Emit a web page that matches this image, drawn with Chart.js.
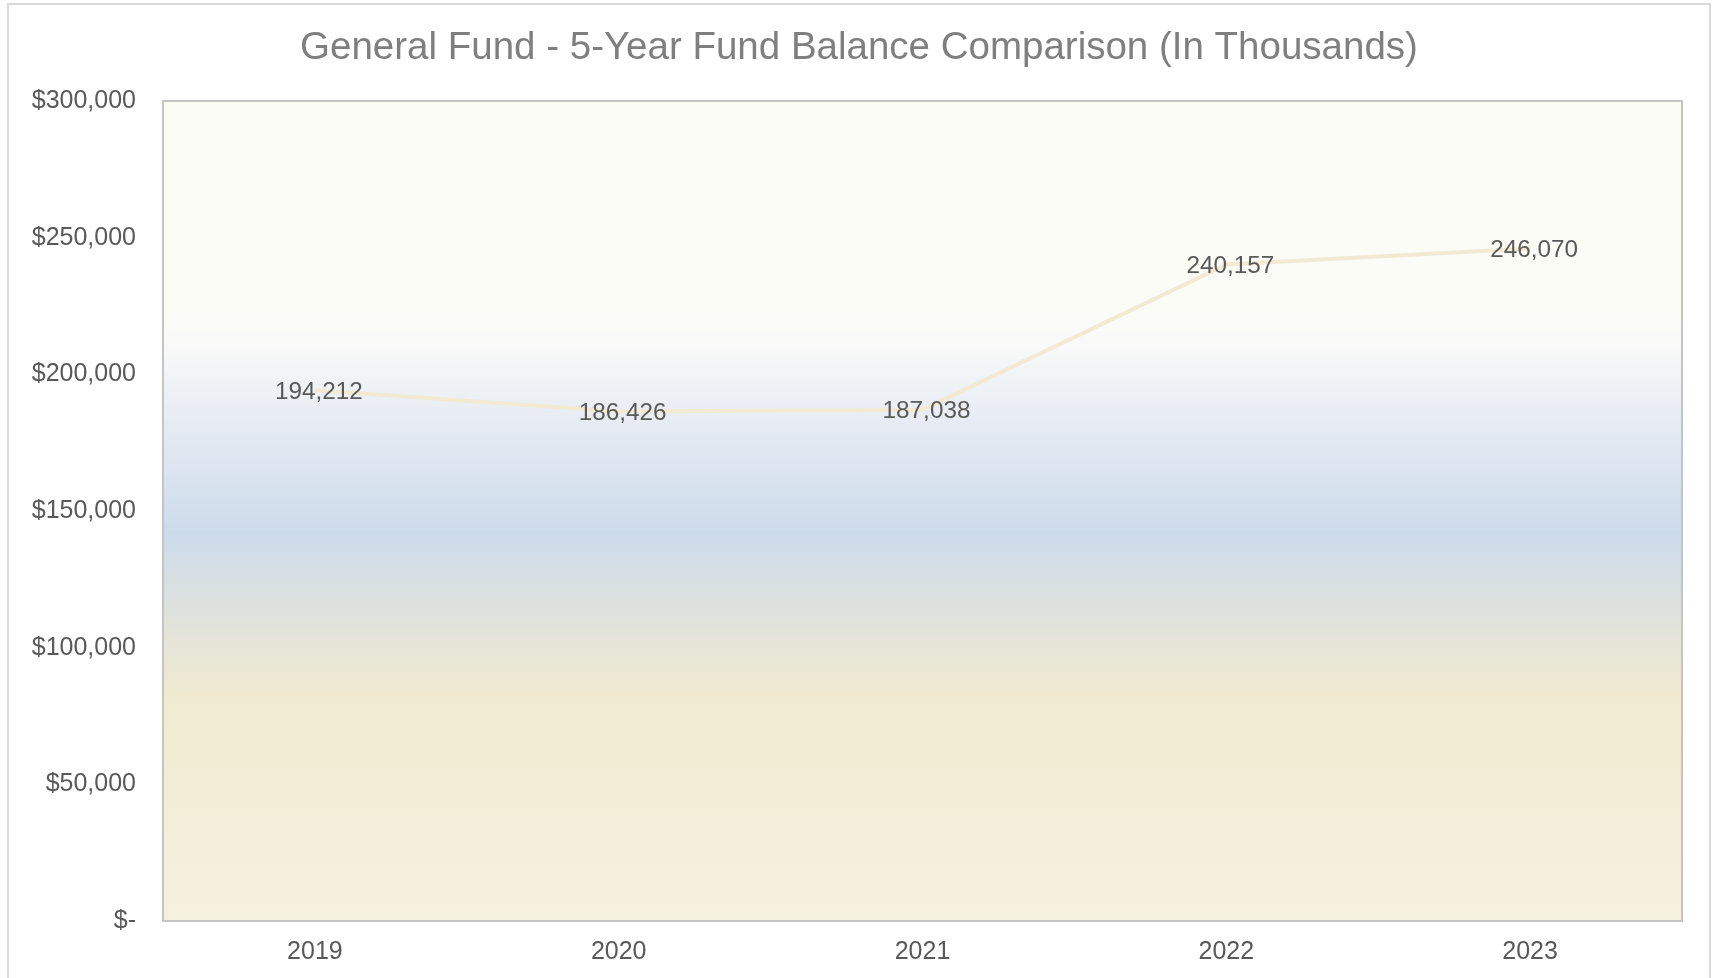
<!DOCTYPE html>
<html>
<head>
<meta charset="utf-8">
<title>General Fund - 5-Year Fund Balance Comparison</title>
<script src="https://cdn.jsdelivr.net/npm/chart.js@4"></script>
<style>
    html, body { margin: 0; padding: 0; background: #ffffff; overflow: hidden; }
    #chart { display: block; }
</style>
</head>
<body>
<canvas id="chart" width="1713" height="978"></canvas>
<script>
// Chart data
const years = ['2019', '2020', '2021', '2022', '2023'];
const fundBalance = [194212, 186426, 187038, 240157, 246070];
const yTickValues = [0, 50000, 100000, 150000, 200000, 250000, 300000];
const chartTitle = 'General Fund - 5-Year Fund Balance Comparison (In Thousands)';

// Colours
const colors = {
    title: '#7f7f7f',
    text: '#595959',
    line: '#f2ead2',
    plotBorder: '#c4c4c4',
    outerBorder: '#d9d9d9'
};

const fontFamily = '"Liberation Sans", Arial, sans-serif';

// Background, outer frame, plot gradient and title
const backdropPlugin = {
    id: 'backdrop',
    beforeDraw(chart) {
        const { ctx, chartArea: a } = chart;
        ctx.save();
        ctx.fillStyle = '#ffffff';
        ctx.fillRect(0, 0, chart.width, chart.height);
        ctx.strokeStyle = colors.outerBorder;
        ctx.lineWidth = 2;
        ctx.strokeRect(8, 4, 1702, 1000);

        const g = ctx.createLinearGradient(0, a.top, 0, a.bottom);
        g.addColorStop(0, '#fcfcf7');
        g.addColorStop(0.26, '#fcfcf7');
        g.addColorStop(0.30, '#f8f9f8');
        g.addColorStop(0.38, '#e9edf4');
        g.addColorStop(0.527, '#ccdbeb');
        g.addColorStop(0.625, '#dfe2dc');
        g.addColorStop(0.727, '#f0ead0');
        g.addColorStop(1, '#f5f1df');
        ctx.fillStyle = g;
        ctx.fillRect(a.left, a.top, a.right - a.left, a.bottom - a.top);

        ctx.strokeStyle = colors.plotBorder;
        ctx.lineWidth = 2;
        ctx.strokeRect(a.left, a.top, a.right - a.left, a.bottom - a.top);

        ctx.font = '38.5px ' + fontFamily;
        ctx.fillStyle = colors.title;
        ctx.textAlign = 'center';
        ctx.textBaseline = 'middle';
        ctx.fillText(chartTitle, 859, 48);
        ctx.restore();
    }
};

// Data labels centred on each point (Excel nudges them a little right)
const valueLabelPlugin = {
    id: 'valueLabels',
    afterDatasetsDraw(chart) {
        const { ctx } = chart;
        const meta = chart.getDatasetMeta(0);
        ctx.save();
        ctx.font = '24.3px ' + fontFamily;
        ctx.fillStyle = colors.text;
        ctx.textAlign = 'center';
        ctx.textBaseline = 'middle';
        meta.data.forEach((pt, i) => {
            ctx.fillText(fundBalance[i].toLocaleString('en-US'), pt.x + 4, pt.y + 2);
        });
        ctx.restore();
    }
};

new Chart(document.getElementById('chart'), {
    type: 'line',
    data: {
        labels: years,
        datasets: [{
            label: 'Fund Balance',
            data: fundBalance,
            borderColor: colors.line,
            borderWidth: 4,
            pointRadius: 0,
            pointHoverRadius: 0,
            tension: 0,
            fill: false
        }]
    },
    options: {
        responsive: false,
        animation: false,
        layout: {
            padding: { left: 0, right: 31, top: 101, bottom: 0 }
        },
        plugins: {
            legend: { display: false },
            tooltip: { enabled: false },
            title: { display: false }
        },
        scales: {
            x: {
                offset: true,
                grid: { display: false, drawTicks: false },
                border: { display: false },
                ticks: {
                    color: colors.text,
                    font: { family: fontFamily, size: 25 },
                    padding: 16,
                    maxRotation: 0
                },
                afterFit(scale) { scale.height = 57; }
            },
            y: {
                min: 0,
                max: 300000,
                grid: { display: false, drawTicks: false },
                border: { display: false },
                afterBuildTicks(scale) {
                    scale.ticks = yTickValues.map(v => ({ value: v }));
                },
                ticks: {
                    color: colors.text,
                    font: { family: fontFamily, size: 25 },
                    padding: 27,
                    callback: v => v === 0 ? '$-' : '$' + v.toLocaleString('en-US')
                },
                afterFit(scale) { scale.width = 163; }
            }
        }
    },
    plugins: [backdropPlugin, valueLabelPlugin]
});
</script>
</body>
</html>
